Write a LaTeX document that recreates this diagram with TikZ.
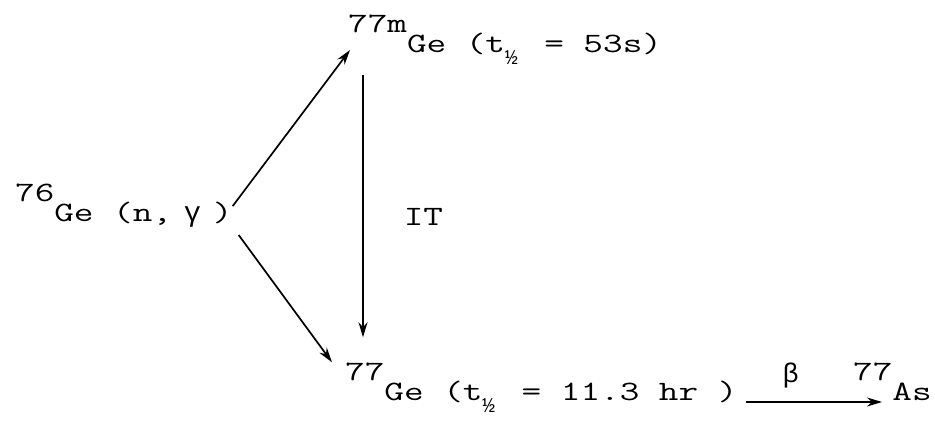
\documentclass[tikz,border=0pt]{standalone}
\usepackage{fontspec}
\setmainfont{Latin Modern Mono}[FakeStretch=1.36]
\newfontfamily\greekfont{Liberation Mono}
\usetikzlibrary{arrows.meta}

\newcommand{\isonum}[1]{\raisebox{20pt}{#1}}
\newcommand{\halfsub}{\rlap{\raisebox{-12pt}{\greekfont\fontsize{21}{21}\selectfont ½}}\phantom{0}}

\begin{document}
\begin{tikzpicture}[x=1pt, y=-1pt,
    every node/.style={inner sep=0pt, font=\fontsize{28}{33}\selectfont},
    decay/.style={-{Stealth[length=15pt,width=9pt]}, line width=1.7pt}]
    \useasboundingbox (0,0) rectangle (935,425);

    % Noyaux
    \node[anchor=base west] (ge76) at (15,222) {\isonum{76}Ge (n,\hspace{12pt}{\greekfont γ}\hspace{12pt})};
    \node[anchor=base west] (ge77m) at (348,53) {\isonum{77m}Ge (t\halfsub{} = 53s)};
    \node[anchor=base west] (ge77) at (345,400) {\isonum{77}Ge (t\halfsub{} = 11.3 hr )};
    \node[anchor=base west] (as77) at (853,400) {\isonum{77}As};

    % Capture vers les deux etats
    \draw[decay] (ge76.east) -- ([shift={(2,-3)}]ge77m.base west);
    \draw[decay] ([shift={(6,7)}]ge76.south east) -- ([shift={(-13,0)}]ge77.north west);

    % Transition isomerique
    \draw[decay] ([shift={(15,22)}]ge77m.base west) -- ([shift={(18,-25)}]ge77.north west)
        node[pos=0.54, right=40pt] (it) {IT};

    % Desintegration beta
    \draw[decay] ([shift={(8,2)}]ge77.base east) -- ([shift={(29,2)}]as77.base west)
        node[pos=0.33, above=13pt, font=\greekfont\fontsize{27}{29}\selectfont] (beta) {β};
\end{tikzpicture}
\end{document}
